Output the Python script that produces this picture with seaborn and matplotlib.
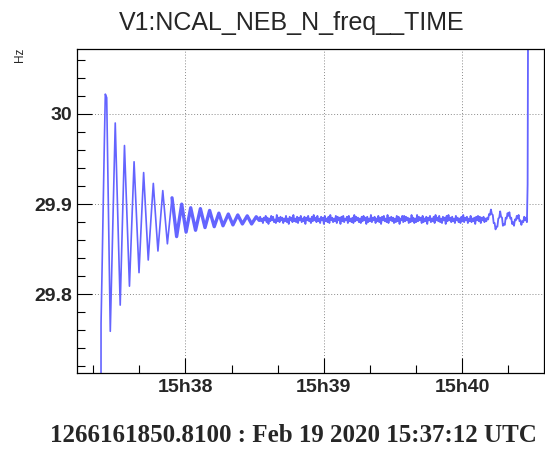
import numpy as np
import pandas as pd
import matplotlib
matplotlib.use("Agg")
import matplotlib.pyplot as plt
import seaborn as sns
from matplotlib.ticker import FixedLocator

# ---- data (time in seconds after 15:37:00 UTC, frequency in Hz) ----
# ring-down after the step (peaks and troughs)
osc_t = [23.40, 23.45, 23.9, 24.4, 24.9, 25.3, 25.9, 27.45, 29.6, 31.75, 33.6, 35.76,
         37.76, 39.9, 41.9, 43.9, 46.1, 48.1, 50.2, 52.2, 54.2]
osc_v = [29.600, 29.768, 29.829, 29.901, 29.971, 30.022, 30.018, 29.759, 29.990, 29.788,
         29.965, 29.809, 29.947, 29.824, 29.935, 29.838, 29.923, 29.848, 29.915, 29.856,
         29.907]

# late, small oscillations
tail_t = [54.2, 56.2, 58.4, 60.3, 62.3, 64.4, 66.5, 68.5, 70.5, 72.5, 74.5, 76.3,
          78.6, 80.6, 82.7, 84.7, 86.8, 88.7, 90.7, 92.0]
tail_v = [29.907, 29.864, 29.900, 29.869, 29.896, 29.871, 29.895, 29.874, 29.893, 29.875,
          29.890, 29.876, 29.889, 29.877, 29.888, 29.878, 29.887, 29.878, 29.886, 29.882]

# steady state, one reading every 0.4 s from 92.4 s
steady_t0 = 92.4
steady_dt = 0.4
steady_v = [
    29.886, 29.881, 29.884, 29.879, 29.885, 29.882, 29.887, 29.880, 29.885, 29.878, 29.884, 29.881,
    29.887, 29.882, 29.886, 29.880, 29.883, 29.879, 29.888, 29.881, 29.885, 29.880, 29.886, 29.882,
    29.885, 29.879, 29.884, 29.881, 29.887, 29.880, 29.884, 29.878, 29.886, 29.882, 29.885, 29.880,
    29.888, 29.881, 29.884, 29.880, 29.886, 29.879, 29.885, 29.882, 29.887, 29.880, 29.884, 29.881,
    29.886, 29.878, 29.885, 29.882, 29.887, 29.881, 29.884, 29.879, 29.886, 29.881, 29.888, 29.882,
    29.885, 29.880, 29.887, 29.881, 29.884, 29.879, 29.886, 29.882, 29.885, 29.878, 29.887, 29.881,
    29.884, 29.880, 29.886, 29.879, 29.888, 29.882, 29.885, 29.880, 29.884, 29.881, 29.887, 29.879,
    29.886, 29.882, 29.885, 29.878, 29.886, 29.881, 29.887, 29.880, 29.884, 29.882, 29.886, 29.879,
    29.887, 29.881, 29.884, 29.880, 29.885, 29.879, 29.888, 29.881, 29.886, 29.882, 29.885, 29.880,
    29.884, 29.879, 29.886, 29.881, 29.887, 29.882, 29.885, 29.878, 29.886, 29.880, 29.884, 29.881,
    29.888, 29.880, 29.885, 29.882, 29.886, 29.879, 29.884, 29.881, 29.887, 29.880, 29.885, 29.878,
    29.886, 29.882, 29.887, 29.881, 29.884, 29.880, 29.888, 29.879, 29.885, 29.882, 29.886, 29.881,
    29.885, 29.879, 29.884, 29.880, 29.887, 29.881, 29.886, 29.878, 29.884, 29.882, 29.887, 29.880,
    29.887, 29.881, 29.886, 29.882, 29.885, 29.879, 29.884, 29.880, 29.888, 29.881, 29.885, 29.879,
    29.884, 29.880, 29.888, 29.881, 29.886, 29.882, 29.885, 29.879, 29.887, 29.880, 29.884, 29.881,
    29.886, 29.878, 29.885, 29.882, 29.887, 29.880, 29.884, 29.881, 29.886, 29.879, 29.888, 29.882,
    29.885, 29.881, 29.887, 29.880, 29.884, 29.879, 29.886, 29.882, 29.885, 29.878, 29.887, 29.881,
    29.888, 29.882, 29.885, 29.880, 29.886, 29.881, 29.884, 29.879, 29.887, 29.882, 29.885, 29.880,
    29.884, 29.879, 29.886, 29.881, 29.888, 29.880, 29.885, 29.882, 29.886, 29.879, 29.884, 29.881,
    29.887, 29.880, 29.884, 29.881, 29.885, 29.878, 29.886, 29.882, 29.887, 29.881, 29.886, 29.879,
    29.885, 29.882, 29.886, 29.880, 29.884, 29.881]

# disturbance before the end, one reading every 0.4 s from 190.8 s
end_t0 = 190.8
end_dt = 0.4
end_v = [29.885, 29.883, 29.889, 29.888, 29.894, 29.889, 29.888, 29.879, 29.879, 29.872,
         29.875, 29.875, 29.884, 29.885, 29.892, 29.886, 29.885, 29.876, 29.878, 29.877,
         29.885, 29.884, 29.890, 29.887, 29.891, 29.884, 29.885, 29.878, 29.880, 29.876,
         29.883, 29.882, 29.887, 29.884, 29.888, 29.881, 29.882, 29.877, 29.881, 29.880,
         29.886, 29.882, 29.885, 29.880]

# final jump (goes off the top of the plot)
jump_t = [208.3, 208.7]
jump_v = [29.922, 30.300]

x_major = [60, 120, 180]
x_labels = ["15h38", "15h39", "15h40"]
x_minor = [20, 40, 80, 100, 140, 160, 200]
y_major = [29.8, 29.9, 30.0]
y_labels = ["29.8", "29.9", "30"]
y_minor = [29.72, 29.74, 29.76, 29.78, 29.82, 29.84, 29.86, 29.88, 29.92,
           29.94, 29.96, 29.98, 30.02, 30.04, 30.06]
x_range = (12.81, 215.4)
y_range = (29.7124, 30.0717)

title = "V1:NCAL_NEB_N_freq__TIME"
y_unit = "Hz"
footer = "1266161850.8100 : Feb 19 2020 15:37:12 UTC"

# ---- assemble ----
steady_t = list(steady_t0 + steady_dt * np.arange(len(steady_v)))
end_t = list(end_t0 + end_dt * np.arange(len(end_v)))
df_ring = pd.DataFrame({"t": osc_t, "v": osc_v})
df_tail = pd.DataFrame({"t": tail_t, "v": tail_v})
df_rest = pd.DataFrame({"t": [tail_t[-1]] + steady_t + end_t + jump_t,
                        "v": [tail_v[-1]] + steady_v + end_v + jump_v})

sns.set_style("ticks")
plt.rcParams["font.family"] = ["Liberation Sans", "DejaVu Sans"]

fig = plt.figure(figsize=(5.45, 4.5), dpi=100)
W, H = 545, 450
L, R, T, B = 76.5, 544.0, 49.3, 373.3
ax = fig.add_axes([L / W, 1 - B / H, (R - L) / W, (B - T) / H])

line_color = "#6464ff"
sns.lineplot(data=df_ring, x="t", y="v", ax=ax, color=line_color, linewidth=1.2,
             estimator=None, sort=False)
sns.lineplot(data=df_tail, x="t", y="v", ax=ax, color=line_color, linewidth=2.4,
             estimator=None, sort=False)
sns.lineplot(data=df_rest, x="t", y="v", ax=ax, color=line_color, linewidth=1.3,
             estimator=None, sort=False)

ax.set_xlim(*x_range)
ax.set_ylim(*y_range)
ax.set_xticks(x_major)
ax.set_xticklabels(x_labels)
ax.xaxis.set_minor_locator(FixedLocator(x_minor))
ax.set_yticks(y_major)
ax.set_yticklabels(y_labels)
ax.yaxis.set_minor_locator(FixedLocator(y_minor))
ax.set_xlabel("")
ax.set_ylabel("")

ax.tick_params(which="both", direction="in", top=False, right=False, color="black")
ax.tick_params(which="major", length=11, width=0.8)
ax.tick_params(which="minor", length=6, width=0.8)
ax.tick_params(axis="x", which="major", pad=4, labelsize=14)
ax.tick_params(axis="y", which="major", pad=3, labelsize=14)
for lab in ax.get_xticklabels() + ax.get_yticklabels():
    lab.set_fontweight("bold")

ax.grid(True, which="major", color="#8a8a8a", linestyle=(0, (1, 2)), linewidth=0.7)
for s in ax.spines.values():
    s.set_color("black")
    s.set_linewidth(0.9)
    s.set_visible(True)

fig.text(292 / W, 1 - 23 / H, title, ha="center", va="center", fontsize=18)
fig.text(20.5 / W, 1 - 48 / H, y_unit, rotation=90, ha="center", va="top", fontsize=8.5)
fig.text(293 / W, 1 - 436 / H, footer, ha="center", va="center", fontsize=18,
         fontweight="bold", family=["Liberation Serif", "DejaVu Serif"])

fig.savefig("out.png", dpi=100)
